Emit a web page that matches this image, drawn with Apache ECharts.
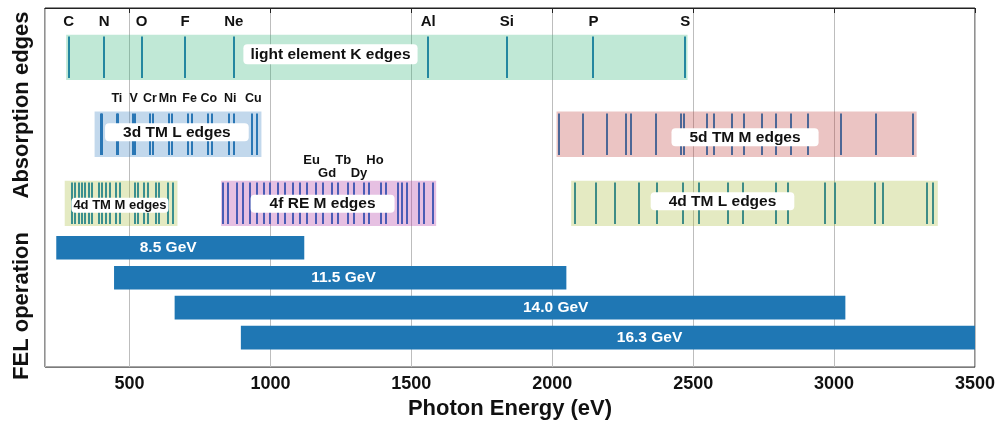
<!DOCTYPE html>
<html>
<head>
<meta charset="utf-8">
<script src="https://cdn.jsdelivr.net/npm/echarts@6/dist/echarts.min.js"></script>
<style>
  html, body { margin: 0; padding: 0; background: #ffffff; }
  #chart { width: 1006px; height: 425px; }
</style>
</head>
<body>
<div id="chart"></div>
<script>
const FONT = '"Liberation Sans", Arial, Helvetica, sans-serif';

// Photon energy axis (eV)
const energyMin = 200;
const energyMax = 3500;
const energyStep = 500;

// Light element K edges
const lightKRange = [275, 2480];
const lightKNames = ['C', 'N', 'O', 'F', 'Ne', 'Al', 'Si', 'P', 'S'];
const lightKEdges = [284, 410, 543, 697, 870, 1560, 1839, 2146, 2472];

// 3d transition metal L3/L2 edges (Sc .. Cu)
const tm3dRange = [376, 968];
const tm3dNames = ['Ti', 'V', 'Cr', 'Mn', 'Fe', 'Co', 'Ni', 'Cu'];
const tm3dNameAt = [455, 515, 572, 636, 713, 781, 857, 939];
const tm3dEdges = [399, 404, 454, 460, 512, 520, 574, 584, 639, 650, 707, 720, 778, 793, 853, 870, 933, 952];

// 5d transition metal M edges
const tm5dRange = [2015, 3293];
const tm5dEdges = [2025, 2108, 2194, 2263, 2281, 2367, 2455, 2469, 2550, 2575, 2637, 2682, 2743, 2794, 2847, 2908, 3026, 3149, 3279];

// 4d transition metal M edges
const tm4dMRange = [270, 670];
const tm4dMEdges = [296, 307, 319, 331, 343, 355, 366, 390, 402, 417, 429, 453, 465, 518, 529, 553, 565, 595, 606, 636, 654];

// 4f rare earth M5/M4 edges (La .. Yb)
const reRange = [825, 1588];
const reNames = ['Eu', 'Gd', 'Tb', 'Dy', 'Ho'];
const reNameAt = [1146, 1201, 1258, 1314, 1371];
const reEdges = [832, 849, 883, 901, 929, 951, 978, 1000, 1027, 1052, 1080, 1106, 1131, 1161, 1185, 1217,
                 1241, 1275, 1295, 1333, 1351, 1392, 1409, 1453, 1468, 1485, 1526, 1544, 1576];

// 4d transition metal L3/L2 edges (Y .. Ag)
const tm4dLRange = [2067, 3368];
const tm4dLEdges = [2080, 2156, 2222, 2307, 2371, 2465, 2520, 2625, 2677, 2793, 2838, 2967, 3004, 3146, 3173, 3330, 3351];

// FEL operating ranges per electron energy
const felNames = ['8.5 GeV', '11.5 GeV', '14.0 GeV', '16.3 GeV'];
const felStart = [240, 445, 660, 895];
const felEnd = [1120, 2050, 3040, 3500];
const felLabelAt = [637, 1259, 2012, 2345];

// ---- vertical layout, in plot units (0 = top, 364 = bottom) ----
const Y_MAX = 364;
const ROW_K = [27, 73];
const ROW_L = [105, 151];
const ROW_M = [175, 221];
const FEL_TOP = 231, FEL_STEP = 30.4, FEL_H = 24;

function bandSeries(range, row, fill) {
  return {
    type: 'custom', silent: true, z: 2,
    data: [[range[0], range[1]]],
    renderItem: (params, api) => {
      const a = api.coord([api.value(0), row[0]]);
      const b = api.coord([api.value(1), row[1]]);
      return { type: 'rect', shape: { x: a[0], y: a[1], width: b[0] - a[0], height: b[1] - a[1] }, style: { fill } };
    }
  };
}

function edgeSeries(edges, row, color) {
  return {
    type: 'custom', silent: true, z: 3,
    data: edges.map(e => [e, 0]),
    renderItem: (params, api) => {
      const a = api.coord([api.value(0), row[0] + 2]);
      const b = api.coord([api.value(0), row[1] - 2]);
      const x = Math.round(a[0]);
      return { type: 'line', shape: { x1: x, y1: a[1], x2: x, y2: b[1] }, style: { stroke: color, lineWidth: 2 } };
    }
  };
}

function nameSeries(positions, names, yOf, size) {
  return {
    type: 'custom', silent: true, z: 4,
    data: positions.map(e => [e, 0]),
    renderItem: (params, api) => {
      const p = api.coord([api.value(0), yOf(params.dataIndex)]);
      return {
        type: 'text', x: p[0], y: p[1],
        style: { text: names[params.dataIndex], font: 'bold ' + size + 'px ' + FONT, fill: '#111', align: 'center', verticalAlign: 'middle' }
      };
    }
  };
}

function bandLabel(text, energy, y, size, pad) {
  return {
    type: 'custom', silent: true, z: 5,
    data: [[energy, y]],
    renderItem: (params, api) => {
      const p = api.coord([api.value(0), api.value(1)]);
      return {
        type: 'text', x: p[0], y: p[1],
        style: {
          text, font: 'bold ' + size + 'px ' + FONT, fill: '#111', align: 'center', verticalAlign: 'middle',
          backgroundColor: '#ffffff', borderRadius: 4, padding: pad
        }
      };
    }
  };
}

const series = [
  bandSeries(lightKRange, ROW_K, 'rgba(45,178,118,0.30)'),
  edgeSeries(lightKEdges, ROW_K, '#2487a0'),
  nameSeries(lightKEdges, lightKNames, () => 14, 15),
  bandLabel('light element K edges', 1213, 47, 15.5, [2, 7]),

  bandSeries(tm3dRange, ROW_L, 'rgba(52,125,192,0.30)'),
  edgeSeries(tm3dEdges, ROW_L, '#2a77b5'),
  nameSeries(tm3dNameAt, tm3dNames, () => 91.5, 12.5),
  bandLabel('3d TM L edges', 668, 126, 15.5, [1, 18]),

  bandSeries(tm5dRange, ROW_L, 'rgba(188,58,55,0.30)'),
  edgeSeries(tm5dEdges, ROW_L, '#4d6796'),
  bandLabel('5d TM M edges', 2684, 131, 15.5, [1, 18]),

  bandSeries(tm4dMRange, ROW_M, 'rgba(165,185,52,0.30)'),
  edgeSeries(tm4dMEdges, ROW_M, '#3a8f8f'),
  bandLabel('4d TM M edges', 466, 200, 13, [1, 2]),

  bandSeries(reRange, ROW_M, 'rgba(172,45,158,0.30)'),
  edgeSeries(reEdges, ROW_M, '#4a5cb5'),
  nameSeries(reNameAt, reNames, i => (i % 2 ? 167.5 : 155), 13),
  bandLabel('4f RE M edges', 1185, 198.5, 15.5, [1, 19]),

  bandSeries(tm4dLRange, ROW_M, 'rgba(165,185,52,0.30)'),
  edgeSeries(tm4dLEdges, ROW_M, '#3e8c86'),
  bandLabel('4d TM L edges', 2604, 196, 15.5, [1, 18]),

  {
    type: 'custom', silent: true, z: 2,
    data: felNames.map((n, i) => [felStart[i], felEnd[i], felLabelAt[i]]),
    renderItem: (params, api) => {
      const i = params.dataIndex;
      const top = FEL_TOP + i * FEL_STEP;
      const a = api.coord([api.value(0), top]);
      const b = api.coord([api.value(1), top + FEL_H]);
      const t = api.coord([api.value(2), top + FEL_H / 2]);
      return {
        type: 'group',
        children: [
          { type: 'rect', shape: { x: a[0], y: a[1], width: b[0] - a[0], height: b[1] - a[1] }, style: { fill: '#1f77b4' } },
          { type: 'text', x: t[0], y: t[1], style: { text: felNames[i], font: 'bold 15.5px ' + FONT, fill: '#ffffff', align: 'center', verticalAlign: 'middle' } }
        ]
      };
    }
  }
];

const chart = echarts.init(document.getElementById('chart'), null, { renderer: 'canvas' });
chart.setOption({
  animation: false,
  backgroundColor: '#ffffff',
  grid: { left: 45, right: 31, top: 8, bottom: 53, show: true, borderColor: '#222', borderWidth: 1, backgroundColor: 'transparent' },
  xAxis: {
    type: 'value', min: energyMin, max: energyMax, minInterval: energyStep, maxInterval: energyStep,
    name: 'Photon Energy (eV)', nameLocation: 'middle', nameGap: 26,
    nameTextStyle: { fontFamily: FONT, fontWeight: 'bold', fontSize: 22, color: '#111' },
    axisLine: { show: true, lineStyle: { color: '#222', width: 1.2 } },
    axisTick: { show: true, length: 5, lineStyle: { color: '#222', width: 1 } },
    axisLabel: { showMinLabel: false, margin: 8, fontFamily: FONT, fontWeight: 'bold', fontSize: 18, color: '#111',
                 formatter: v => String(v) },
    splitLine: { show: true, lineStyle: { color: '#bdbdbd', width: 1 } }
  },
  yAxis: {
    type: 'value', inverse: true, min: 0, max: Y_MAX,
    axisLine: { show: false }, axisTick: { show: false }, axisLabel: { show: false }, splitLine: { show: false }
  },
  graphic: [
    { type: 'text', x: 22, y: 105, rotation: Math.PI / 2,
      style: { text: 'Absorption edges', font: 'bold 22px ' + FONT, fill: '#111', align: 'center', verticalAlign: 'middle' } },
    { type: 'text', x: 22, y: 306, rotation: Math.PI / 2,
      style: { text: 'FEL operation', font: 'bold 22px ' + FONT, fill: '#111', align: 'center', verticalAlign: 'middle' } }
  ],
  series
});
</script>
</body>
</html>
